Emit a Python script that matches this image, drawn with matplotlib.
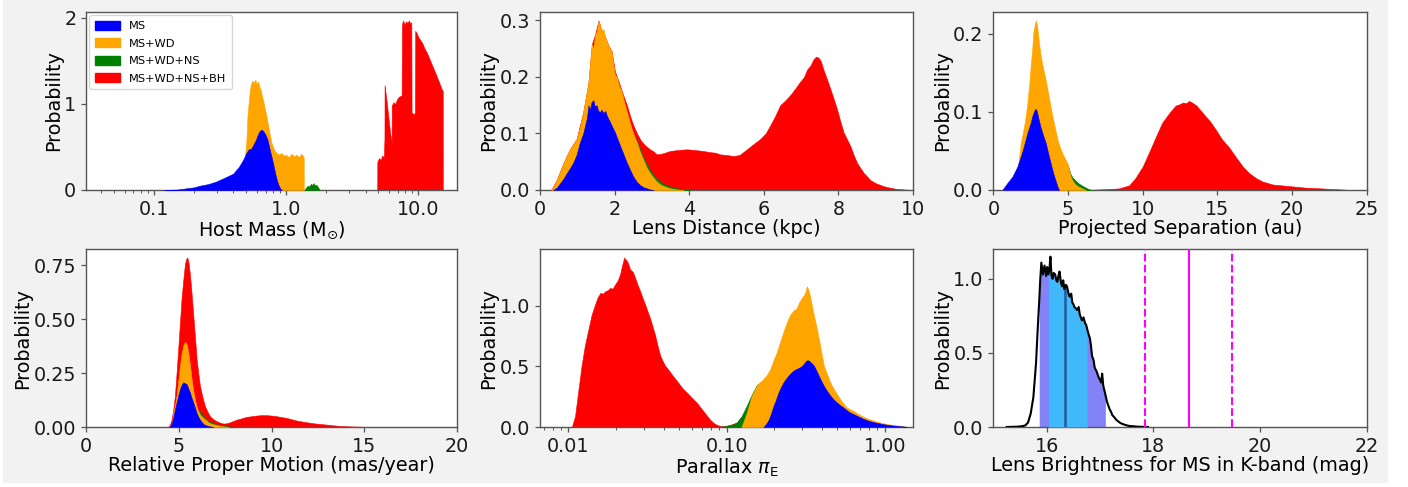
import numpy as np
import matplotlib
matplotlib.use("Agg")
import matplotlib.pyplot as plt
from matplotlib.patches import Rectangle, Patch
from matplotlib.ticker import FixedLocator, FormatStrFormatter, NullFormatter

# ---------------- Host mass (Msun), cumulative populations ----------------
mass_ms_x = [0.12, 0.15, 0.177, 0.20, 0.223, 0.26, 0.298, 0.34, 0.398, 0.44, 0.473, 0.50, 0.52, 0.545, 0.563,
             0.59, 0.614, 0.635, 0.655, 0.675, 0.70, 0.725, 0.75, 0.775, 0.80, 0.825, 0.85, 0.875, 0.90, 0.93]
mass_ms_y = [0.0, 0.005, 0.02, 0.03, 0.05, 0.07, 0.10, 0.14, 0.19, 0.27, 0.35, 0.43, 0.47, 0.48, 0.52,
             0.58, 0.65, 0.69, 0.70, 0.68, 0.64, 0.58, 0.48, 0.39, 0.30, 0.20, 0.12, 0.06, 0.02, 0.0]
mass_wd_x = [0.49, 0.50, 0.51, 0.525, 0.54, 0.555, 0.57, 0.585, 0.60, 0.615, 0.63, 0.645, 0.66, 0.675, 0.69,
             0.71, 0.73, 0.75, 0.775, 0.80, 0.825, 0.85, 0.88, 0.92, 0.96, 1.0, 1.05, 1.1, 1.15, 1.2,
             1.25, 1.3, 1.34, 1.36, 1.361]
mass_wd_y = [0.42, 0.55, 0.85, 1.08, 1.22, 1.27, 1.25, 1.28, 1.23, 1.26, 1.2, 1.15, 1.08, 1.02, 0.95,
             0.86, 0.76, 0.66, 0.55, 0.49, 0.45, 0.43, 0.41, 0.43, 0.40, 0.41, 0.38, 0.42, 0.39, 0.41,
             0.38, 0.42, 0.40, 0.38, 0.0]
mass_ns_x = [1.38, 1.42, 1.46, 1.50, 1.54, 1.58, 1.62, 1.66, 1.70, 1.75, 1.80]
mass_ns_y = [0.0, 0.03, 0.05, 0.04, 0.07, 0.06, 0.08, 0.05, 0.06, 0.03, 0.0]
mass_bh_x = [4.90, 4.91, 5.05, 5.2, 5.35, 5.5, 5.56, 5.57, 5.75, 5.95,
             6.15, 6.30, 6.31, 6.5, 6.7, 6.9, 7.1, 7.5, 7.55, 7.7,
             7.9, 8.1, 8.3, 8.5, 8.75, 8.88, 8.92, 9.3, 9.45, 9.50,
             9.7, 10.0, 10.4, 10.8, 11.2, 11.6, 12.0, 12.5, 13.0, 13.5,
             14.0, 14.5, 15.0, 15.35, 15.36]
mass_bh_y = [0.0, 0.33, 0.37, 0.35, 0.40, 0.38, 0.60, 1.22, 1.05, 0.85,
             0.65, 0.55, 0.98, 1.02, 1.00, 1.05, 1.08, 1.10, 1.93, 1.97,
             1.92, 1.96, 1.94, 1.97, 1.93, 1.95, 0.90, 0.88, 0.90, 1.85,
             1.83, 1.78, 1.74, 1.70, 1.64, 1.60, 1.55, 1.48, 1.42, 1.36,
             1.30, 1.24, 1.18, 1.15, 0.0]

# ---------------- Lens distance (kpc) ----------------
dist_ms_x = [0.35, 0.45, 0.54, 0.63, 0.72, 0.80, 0.89, 0.98, 1.07, 1.16, 1.21, 1.26, 1.30, 1.34, 1.38, 1.43,
             1.47, 1.52, 1.56, 1.61, 1.65, 1.70, 1.75, 1.79, 1.84, 1.88, 1.95, 2.01, 2.08, 2.15, 2.24, 2.33,
             2.42, 2.50, 2.59, 2.68, 2.77, 2.86, 2.95, 3.05]
dist_ms_y = [0.0, 0.004, 0.012, 0.02, 0.03, 0.038, 0.048, 0.062, 0.084, 0.10, 0.114, 0.128, 0.15, 0.142, 0.155,
             0.159, 0.148, 0.15, 0.14, 0.138, 0.142, 0.136, 0.14, 0.132, 0.125, 0.12, 0.11, 0.102, 0.09,
             0.078, 0.063, 0.048, 0.035, 0.024, 0.015, 0.009, 0.005, 0.003, 0.001, 0.0]
dist_wd_x = [0.30, 0.38, 0.45, 0.54, 0.63, 0.72, 0.80, 0.89, 0.98, 1.07, 1.16, 1.23, 1.30, 1.35, 1.39, 1.43,
             1.48, 1.52, 1.57, 1.61, 1.65, 1.70, 1.75, 1.79, 1.84, 1.88, 1.92, 1.97, 2.01, 2.06, 2.12, 2.19,
             2.26, 2.33, 2.40, 2.46, 2.53, 2.60, 2.68, 2.77, 2.86, 2.95, 3.04, 3.13, 3.22, 3.31, 3.40, 3.49,
             3.67, 3.85]
dist_wd_y = [0.0, 0.008, 0.018, 0.032, 0.048, 0.06, 0.072, 0.08, 0.09, 0.11, 0.138, 0.165, 0.19, 0.23, 0.258,
             0.25, 0.276, 0.28, 0.30, 0.29, 0.282, 0.285, 0.27, 0.264, 0.255, 0.25, 0.246, 0.22, 0.204, 0.20,
             0.185, 0.174, 0.155, 0.138, 0.122, 0.108, 0.095, 0.084, 0.068, 0.054, 0.04, 0.03, 0.022, 0.015,
             0.01, 0.007, 0.005, 0.003, 0.001, 0.0]
dist_ns_x = [2.50, 2.60, 2.77, 2.95, 3.13, 3.31, 3.49, 3.67, 3.85, 4.05]
dist_ns_y = [0.099, 0.087, 0.058, 0.035, 0.02, 0.011, 0.006, 0.003, 0.0015, 0.0]
dist_bh_x = [0.30, 0.45, 0.63, 0.80, 0.98, 1.16, 1.30, 1.39, 1.48, 1.57, 1.65, 1.75, 1.84, 1.92, 2.01, 2.12,
             2.22, 2.33, 2.42, 2.50, 2.60, 2.70, 2.80, 2.95, 3.05, 3.13, 3.25, 3.35, 3.49, 3.60, 3.75, 3.94,
             4.10, 4.25, 4.38, 4.55, 4.70, 4.83, 5.00, 5.19, 5.35, 5.55, 5.70, 5.90, 6.05, 6.17, 6.30, 6.44,
             6.60, 6.71, 6.85, 6.98, 7.08, 7.16, 7.25, 7.33, 7.40, 7.47, 7.53, 7.60, 7.70, 7.78, 7.87, 7.96,
             8.05, 8.14, 8.23, 8.32, 8.41, 8.50, 8.60, 8.68, 8.77, 8.85, 9.00, 9.12, 9.25, 9.39, 9.55, 9.75,
             10.0]
dist_bh_y = [0.0, 0.018, 0.048, 0.072, 0.09, 0.138, 0.19, 0.258, 0.276, 0.30, 0.282, 0.27, 0.255, 0.246, 0.21,
             0.19, 0.17, 0.15, 0.13, 0.115, 0.10, 0.088, 0.08, 0.072, 0.068, 0.063, 0.064, 0.066, 0.069, 0.07,
             0.071, 0.072, 0.071, 0.07, 0.069, 0.067, 0.066, 0.063, 0.062, 0.06, 0.062, 0.072, 0.08, 0.09,
             0.10, 0.114, 0.13, 0.15, 0.16, 0.168, 0.18, 0.192, 0.20, 0.213, 0.22, 0.231, 0.236, 0.234, 0.228,
             0.213, 0.195, 0.18, 0.162, 0.144, 0.122, 0.102, 0.09, 0.078, 0.062, 0.048, 0.038, 0.03, 0.024,
             0.018, 0.012, 0.009, 0.006, 0.004, 0.002, 0.001, 0.0]

# ---------------- Projected separation (au) ----------------
sep_ms_x = [0.6, 0.94, 1.27, 1.61, 1.94, 2.1, 2.28, 2.4, 2.5, 2.6, 2.73, 2.82, 2.91, 3.06, 3.17, 3.28, 3.4,
            3.51, 3.67, 3.84, 4.0, 4.18, 4.3, 4.4]
sep_ms_y = [0.0, 0.009, 0.017, 0.03, 0.049, 0.06, 0.073, 0.08, 0.086, 0.094, 0.101, 0.104, 0.101, 0.088, 0.08,
            0.073, 0.066, 0.06, 0.047, 0.034, 0.022, 0.011, 0.004, 0.0]
sep_wd_x = [0.6, 0.83, 1.05, 1.27, 1.45, 1.61, 1.72, 1.83, 1.94, 2.06, 2.17, 2.28, 2.4, 2.5, 2.6, 2.68, 2.76,
            2.84, 2.92, 3.0, 3.08, 3.17, 3.28, 3.4, 3.51, 3.62, 3.78, 3.95, 4.12, 4.29, 4.45, 4.62, 4.8,
            4.96, 5.07, 5.18, 5.3, 5.41, 5.57, 5.74, 5.95, 6.19]
sep_wd_y = [0.0, 0.005, 0.009, 0.013, 0.018, 0.026, 0.04, 0.06, 0.07, 0.082, 0.095, 0.112, 0.135, 0.159, 0.18,
            0.202, 0.21, 0.217, 0.212, 0.198, 0.185, 0.172, 0.16, 0.15, 0.14, 0.129, 0.112, 0.095, 0.08,
            0.065, 0.055, 0.047, 0.04, 0.034, 0.025, 0.017, 0.012, 0.009, 0.006, 0.004, 0.002, 0.0]
sep_ns_x = [4.96, 5.18, 5.3, 5.5, 5.74, 6.0, 6.19, 6.4, 6.6]
sep_ns_y = [0.033, 0.02, 0.016, 0.012, 0.008, 0.005, 0.003, 0.001, 0.0]
sep_bh_x = [6.0, 7.5, 8.4, 9.1, 9.5, 10.0, 10.4, 10.9, 11.3, 11.8, 12.2, 12.5, 12.7, 12.9, 13.1, 13.3, 13.6,
            14.0, 14.5, 14.9, 15.3, 15.8, 16.2, 16.7, 17.1, 17.6, 18.0, 18.7, 19.8, 20.9, 22.0, 23.0, 24.0]
sep_bh_y = [0.0, 0.001, 0.002, 0.006, 0.015, 0.03, 0.047, 0.069, 0.086, 0.099, 0.108, 0.11, 0.112, 0.111,
            0.114, 0.112, 0.108, 0.099, 0.088, 0.077, 0.065, 0.054, 0.043, 0.03, 0.022, 0.015, 0.011, 0.007,
            0.005, 0.003, 0.002, 0.001, 0.0]

# ---------------- Relative proper motion (mas/yr) ----------------
pm_ms_x = [4.52, 4.61, 4.70, 4.79, 4.88, 4.97, 5.06, 5.15, 5.24, 5.33, 5.42, 5.51, 5.60, 5.69, 5.78, 5.87,
           5.96, 6.05, 6.14, 6.32, 6.50, 6.68, 6.86]
pm_ms_y = [0.0, 0.015, 0.042, 0.08, 0.113, 0.145, 0.175, 0.195, 0.207, 0.203, 0.199, 0.18, 0.16, 0.135, 0.113,
           0.09, 0.066, 0.048, 0.034, 0.014, 0.007, 0.003, 0.0]
pm_wd_x = [4.56, 4.65, 4.70, 4.79, 4.88, 4.97, 5.06, 5.15, 5.24, 5.30, 5.37, 5.44, 5.51, 5.60, 5.69, 5.78,
           5.87, 5.96, 6.05, 6.14, 6.32, 6.50, 6.59, 6.77, 6.95, 7.2, 7.4, 7.7]
pm_wd_y = [0.0, 0.03, 0.066, 0.10, 0.144, 0.21, 0.285, 0.34, 0.379, 0.39, 0.394, 0.38, 0.347, 0.29, 0.222,
           0.17, 0.128, 0.095, 0.074, 0.058, 0.042, 0.03, 0.022, 0.015, 0.011, 0.006, 0.003, 0.0]
pm_ns_x = [6.0, 6.5, 7.0, 7.5, 8.0]
pm_ns_y = [0.086, 0.033, 0.013, 0.004, 0.0]
pm_bh_x = [4.43, 4.52, 4.61, 4.70, 4.79, 4.88, 4.97, 5.06, 5.15, 5.24, 5.33, 5.40, 5.46, 5.53, 5.60, 5.69,
           5.78, 5.87, 5.96, 6.05, 6.14, 6.27, 6.41, 6.55, 6.68, 6.86, 7.04, 7.22, 7.40, 7.58, 7.76, 7.94,
           8.11, 8.38, 8.65, 8.92, 9.19, 9.46, 9.73, 10.0, 10.27, 10.54, 10.81, 11.08, 11.35, 11.6, 11.88,
           12.2, 12.6, 13.0, 13.3, 13.7, 14.2, 14.6, 15.1, 15.6]
pm_bh_y = [0.0, 0.01, 0.034, 0.08, 0.144, 0.25, 0.363, 0.48, 0.598, 0.68, 0.754, 0.78, 0.786, 0.76, 0.708,
           0.62, 0.52, 0.42, 0.316, 0.25, 0.191, 0.14, 0.097, 0.07, 0.05, 0.036, 0.027, 0.02, 0.016, 0.017,
           0.022, 0.028, 0.034, 0.04, 0.047, 0.05, 0.053, 0.055, 0.055, 0.053, 0.05, 0.046, 0.042, 0.036,
           0.03, 0.026, 0.022, 0.018, 0.014, 0.011, 0.008, 0.005, 0.003, 0.002, 0.001, 0.0]

# ---------------- Microlens parallax pi_E ----------------
plx_ms_x = [0.171, 0.178, 0.185, 0.191, 0.198, 0.206, 0.213, 0.221, 0.229, 0.238, 0.246, 0.255, 0.265, 0.278,
            0.292, 0.303, 0.314, 0.322, 0.330, 0.343, 0.356, 0.370, 0.383, 0.397, 0.412, 0.433, 0.455, 0.477,
            0.501, 0.525, 0.551, 0.594, 0.638, 0.687, 0.737, 0.79, 0.852, 0.92, 0.986, 1.06, 1.14, 1.23,
            1.32, 1.38]
plx_ms_y = [0.0, 0.025, 0.061, 0.11, 0.173, 0.23, 0.284, 0.33, 0.368, 0.40, 0.423, 0.445, 0.465, 0.48, 0.493,
            0.51, 0.535, 0.55, 0.549, 0.53, 0.507, 0.465, 0.423, 0.38, 0.34, 0.295, 0.256, 0.225, 0.2, 0.178,
            0.159, 0.125, 0.105, 0.085, 0.066, 0.052, 0.04, 0.031, 0.023, 0.017, 0.012, 0.008, 0.004, 0.0]
plx_wd_x = [0.124, 0.127, 0.134, 0.144, 0.155, 0.163, 0.171, 0.180, 0.189, 0.198, 0.208, 0.218, 0.229, 0.240,
            0.252, 0.265, 0.278, 0.288, 0.299, 0.310, 0.316, 0.322, 0.330, 0.339, 0.347, 0.356, 0.370, 0.383,
            0.397, 0.412, 0.428, 0.444, 0.460, 0.477, 0.50, 0.525, 0.55, 0.578, 0.62, 0.668, 0.72, 0.773,
            0.83, 0.894, 0.96, 1.03, 1.11, 1.20, 1.28, 1.35, 1.38]
plx_wd_y = [0.0, 0.033, 0.117, 0.256, 0.34, 0.37, 0.396, 0.43, 0.479, 0.55, 0.618, 0.70, 0.786, 0.86, 0.925,
            0.96, 0.98, 1.03, 1.064, 1.09, 1.12, 1.16, 1.13, 1.064, 1.0, 0.925, 0.83, 0.73, 0.62, 0.507,
            0.45, 0.396, 0.35, 0.312, 0.27, 0.228, 0.19, 0.159, 0.14, 0.115, 0.09, 0.072, 0.058, 0.045,
            0.034, 0.025, 0.018, 0.013, 0.008, 0.004, 0.0]
plx_ns_x = [0.0905, 0.0952, 0.1, 0.105, 0.11, 0.1157, 0.1244, 0.1338, 0.144, 0.155, 0.165]
plx_ns_y = [0.0, 0.005, 0.009, 0.015, 0.022, 0.033, 0.089, 0.173, 0.265, 0.345, 0.37]
plx_bh_x = [0.0105, 0.0110, 0.01157, 0.0121, 0.0127, 0.0134, 0.0140, 0.0147, 0.0153, 0.0159, 0.0165, 0.0171,
            0.0178, 0.0184, 0.0190, 0.0197, 0.0205, 0.0212, 0.0218, 0.0225, 0.0230, 0.0234, 0.0240, 0.0245,
            0.0255, 0.0264, 0.0274, 0.0284, 0.0295, 0.0306, 0.0317, 0.0328, 0.0340, 0.0353, 0.0366, 0.038,
            0.0394, 0.0408, 0.0424, 0.0440, 0.0462, 0.0484, 0.0508, 0.0533, 0.0560, 0.0588, 0.0617, 0.0648,
            0.068, 0.0713, 0.0749, 0.0786, 0.0825, 0.0864, 0.0905, 0.0952, 0.1, 0.105, 0.11, 0.1157, 0.1244]
plx_bh_y = [0.0, 0.089, 0.312, 0.507, 0.674, 0.813, 0.925, 1.008, 1.07, 1.106, 1.10, 1.12, 1.13, 1.148, 1.14,
            1.175, 1.21, 1.259, 1.33, 1.398, 1.38, 1.37, 1.34, 1.30, 1.28, 1.23, 1.17, 1.12, 1.06, 1.008,
            0.95, 0.897, 0.83, 0.758, 0.67, 0.59, 0.545, 0.507, 0.48, 0.451, 0.415, 0.382, 0.345, 0.312,
            0.285, 0.256, 0.228, 0.2, 0.165, 0.131, 0.095, 0.061, 0.035, 0.019, 0.01, 0.006, 0.011, 0.017,
            0.026, 0.037, 0.085]

# ---------------- Lens K-band magnitude for MS hosts ----------------
kmag_x = [15.25, 15.45, 15.55, 15.6, 15.65, 15.7, 15.75, 15.8, 15.83, 15.86,
          15.88, 15.9, 15.93, 15.96, 15.99, 16.01, 16.03, 16.05, 16.07, 16.09,
          16.11, 16.13, 16.16, 16.18, 16.2, 16.22, 16.24, 16.27, 16.29, 16.31,
          16.33, 16.36, 16.38, 16.41, 16.43, 16.46, 16.48, 16.5, 16.52, 16.55,
          16.57, 16.6, 16.62, 16.64, 16.66, 16.69, 16.72, 16.74, 16.76, 16.79,
          16.81, 16.83, 16.85, 16.88, 16.9, 16.93, 16.95, 16.98, 17.0, 17.02,
          17.04, 17.06, 17.08, 17.1, 17.13, 17.16, 17.18, 17.21, 17.23, 17.27,
          17.3, 17.35, 17.39, 17.44, 17.49, 17.55, 17.62, 17.71, 17.8, 17.9]
kmag_p = [0.0, 0.002, 0.006, 0.011, 0.03, 0.09, 0.2, 0.43, 0.65, 0.85,
          1.0, 1.11, 1.03, 1.09, 1.02, 1.08, 1.03, 1.06, 1.15, 1.02,
          1.0, 1.04, 1.03, 0.99, 0.98, 1.02, 1.05, 0.97, 0.95, 0.99,
          0.93, 0.96, 0.95, 0.9, 0.88, 0.9, 0.84, 0.83, 0.81, 0.8,
          0.79, 0.81, 0.76, 0.74, 0.72, 0.74, 0.7, 0.69, 0.66, 0.62,
          0.6, 0.55, 0.48, 0.45, 0.4, 0.38, 0.36, 0.33, 0.32, 0.3,
          0.36, 0.28, 0.25, 0.22, 0.17, 0.14, 0.12, 0.1, 0.08, 0.065,
          0.05, 0.035, 0.025, 0.018, 0.012, 0.007, 0.005, 0.002, 0.001, 0.0]
kmag_median = 16.35
kmag_1sig = (16.02, 16.78)
kmag_2sig = (15.85, 17.12)
kobs_center = 18.66
kobs_err = 0.81

labels = ["MS", "MS+WD", "MS+WD+NS", "MS+WD+NS+BH"]
colors = ["blue", "orange", "green", "red"]

plt.rcParams["font.family"] = ["DejaVu Sans"]
plt.rcParams["font.size"] = 13.8

fig = plt.figure(figsize=(14.08, 4.87), dpi=100)
fig.patch.set_facecolor("white")
fig.add_artist(Rectangle((3 / 1408, 4 / 487), 1385 / 1408, 483 / 487, transform=fig.transFigure,
                         facecolor="#f2f2f2", edgecolor="none", zorder=-10))

H = 0.3655
lefts = [0.0611, 0.3835, 0.7055]
widths = [0.2635, 0.2649, 0.2652]
bottoms = [0.6099, 0.1232]
axes = [[fig.add_axes([lefts[c], bottoms[r], widths[c], H]) for c in range(3)] for r in range(2)]


def style(ax):
    for s in ax.spines.values():
        s.set_color("#555555")
        s.set_linewidth(1.0)
    ax.tick_params(colors="#555555", labelcolor="#1a1a1a", labelsize=13.8, width=0.9)
    ax.tick_params(which="minor", colors="#555555", width=0.7)
    ax.xaxis.labelpad = 0.5
    ax.yaxis.labelpad = 1.0


def stacked(ax, series):
    # series ordered from the full population down to MS only
    tops = []
    for z, (x, y, col) in enumerate(series):
        ax.fill_between(x, y, 0, color=col, lw=0.4, edgecolor=col, zorder=2 + z)
        tops.append(max(y))
    return max(tops)


# Host mass
ax = axes[0][0]
top = stacked(ax, [(mass_bh_x, mass_bh_y, "red"), (mass_ns_x, mass_ns_y, "green"),
                   (mass_wd_x, mass_wd_y, "orange"), (mass_ms_x, mass_ms_y, "blue")])
ax.set_xscale("log")
ax.set_xlim(0.0306, 19.7)
ax.set_ylim(0, top * 1.05)
ax.xaxis.set_major_locator(FixedLocator([0.1, 1.0, 10.0]))
ax.xaxis.set_major_formatter(FormatStrFormatter("%.1f"))
ax.xaxis.set_minor_formatter(NullFormatter())
ax.set_yticks([0, 1, 2])
ax.set_xlabel(r"Host Mass (M$_{\odot}$)")
ax.set_ylabel("Probability")
handles = [Patch(facecolor=c, edgecolor=c, label=l) for c, l in zip(colors, labels)]
ax.legend(handles=handles, loc="upper left", fontsize=8.2, borderaxespad=0.3, labelspacing=0.62,
          handlelength=2.2, handleheight=0.8, borderpad=0.5, framealpha=0.8, edgecolor="#cccccc",
          fancybox=True)

# Lens distance
ax = axes[0][1]
top = stacked(ax, [(dist_bh_x, dist_bh_y, "red"), (dist_ns_x, dist_ns_y, "green"),
                   (dist_wd_x, dist_wd_y, "orange"), (dist_ms_x, dist_ms_y, "blue")])
ax.set_xlim(0, 10)
ax.set_ylim(0, top * 1.05)
ax.set_yticks([0.0, 0.1, 0.2, 0.3])
ax.yaxis.set_major_formatter(FormatStrFormatter("%.1f"))
ax.set_xlabel("Lens Distance (kpc)")
ax.set_ylabel("Probability")

# Projected separation
ax = axes[0][2]
top = stacked(ax, [(sep_bh_x, sep_bh_y, "red"), (sep_ns_x, sep_ns_y, "green"),
                   (sep_wd_x, sep_wd_y, "orange"), (sep_ms_x, sep_ms_y, "blue")])
ax.set_xlim(0, 25)
ax.set_ylim(0, top * 1.05)
ax.set_yticks([0.0, 0.1, 0.2])
ax.yaxis.set_major_formatter(FormatStrFormatter("%.1f"))
ax.set_xlabel("Projected Separation (au)")
ax.set_ylabel("Probability")

# Relative proper motion
ax = axes[1][0]
top = stacked(ax, [(pm_bh_x, pm_bh_y, "red"), (pm_ns_x, pm_ns_y, "green"),
                   (pm_wd_x, pm_wd_y, "orange"), (pm_ms_x, pm_ms_y, "blue")])
ax.set_xlim(0, 20)
ax.set_ylim(0, top * 1.05)
ax.set_yticks([0.0, 0.25, 0.5, 0.75])
ax.yaxis.set_major_formatter(FormatStrFormatter("%.2f"))
ax.set_xlabel("Relative Proper Motion (mas/year)")
ax.set_ylabel("Probability")

# Parallax
ax = axes[1][1]
top = stacked(ax, [(plx_bh_x, plx_bh_y, "red"), (plx_ns_x, plx_ns_y, "green"),
                   (plx_wd_x, plx_wd_y, "orange"), (plx_ms_x, plx_ms_y, "blue")])
ax.set_xscale("log")
ax.set_xlim(0.0066, 1.51)
ax.set_ylim(0, top * 1.05)
ax.xaxis.set_major_locator(FixedLocator([0.01, 0.1, 1.0]))
ax.xaxis.set_major_formatter(FormatStrFormatter("%.2f"))
ax.xaxis.set_minor_formatter(NullFormatter())
ax.set_yticks([0.0, 0.5, 1.0])
ax.yaxis.set_major_formatter(FormatStrFormatter("%.1f"))
ax.set_xlabel(r"Parallax $\pi_{\rm E}$")
ax.set_ylabel("Probability")

# Lens K-band brightness
ax = axes[1][2]
kx = np.array(kmag_x)
kp = np.array(kmag_p)
in2 = (kx >= kmag_2sig[0]) & (kx <= kmag_2sig[1])
in1 = (kx >= kmag_1sig[0]) & (kx <= kmag_1sig[1])
ax.fill_between(kx, kp, 0, where=in2, color="#8383f7", lw=0, zorder=2)
ax.fill_between(kx, kp, 0, where=in1, color="#40b8fa", lw=0, zorder=3)
ax.vlines(kmag_median, 0, np.interp(kmag_median, kx, kp), color="#1f5a9a", lw=1.8, zorder=4)
ax.plot(kx, kp, color="black", lw=1.5, zorder=5)
ax.axvline(kobs_center, color="magenta", lw=1.5, zorder=6)
ax.axvline(kobs_center - kobs_err, color="magenta", lw=1.5, ls="--", zorder=6)
ax.axvline(kobs_center + kobs_err, color="magenta", lw=1.5, ls="--", zorder=6)
ax.set_xlim(15, 22)
ax.set_ylim(0, kp.max() * 1.045)
ax.set_xticks([16, 18, 20, 22])
ax.set_yticks([0.0, 0.5, 1.0])
ax.yaxis.set_major_formatter(FormatStrFormatter("%.1f"))
ax.set_xlabel("Lens Brightness for MS in K-band (mag)")
ax.set_ylabel("Probability")

for row in axes:
    for a in row:
        style(a)

fig.savefig("out.png", dpi=100, facecolor=fig.get_facecolor())
